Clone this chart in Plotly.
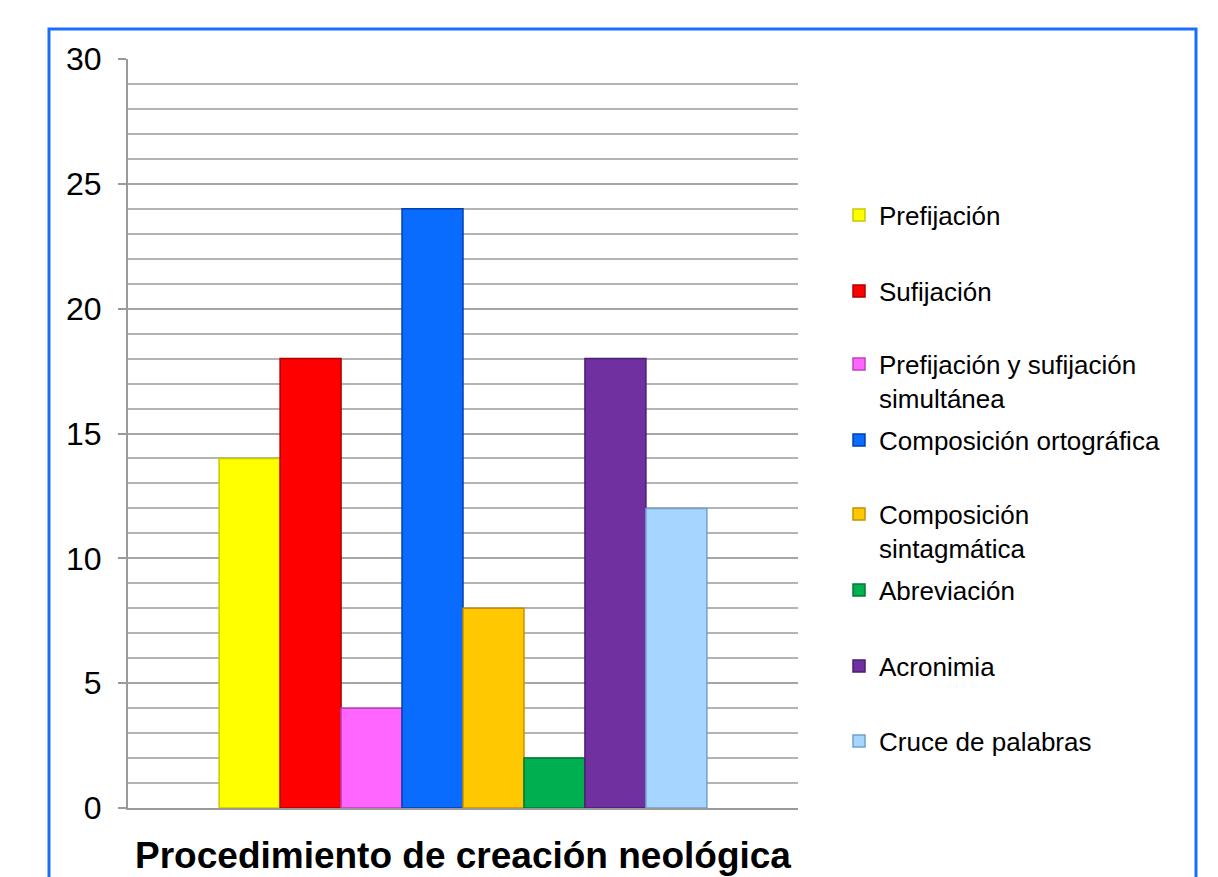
import plotly.graph_objects as go

categories = ["Prefijación", "Sufijación", "Prefijación y sufijación<br>simultánea",
              "Composición ortográfica", "Composición<br>sintagmática", "Abreviación",
              "Acronimia", "Cruce de palabras"]
values = [14, 18, 4, 24, 8, 2, 18, 12]
colors = ["#FFFF00", "#FF0000", "#FF66FF", "#0A6CFF", "#FFC800", "#00B050", "#7030A0", "#A6D6FF"]
edges = ["#C9C900", "#B00000", "#C040C0", "#0040B0", "#C89000", "#007A38", "#4A1E70", "#6FA0D0"]
x_title = "Procedimiento de creación neológica"

OFF = 8  # page body margin
W, H = 1218 - OFF, 877 - OFF
L, R, T, B = 128, 798, 59, 808  # target pixel positions in the window

def px_to_paper_x(px):
    return (px - L) / (R - L)

def px_to_paper_y(py):
    return (B - py) / (B - T)

legend_centers = [215, 291, 381, 440, 531, 590, 666, 741]

fig = go.Figure()
layout_legends = {}
for i, (name, v, c, e) in enumerate(zip(categories, values, colors, edges)):
    key = "legend" if i == 0 else f"legend{i+1}"
    fig.add_trace(go.Bar(
        x=[""], y=[v], name=name,
        marker=dict(color=c, line=dict(color=e, width=1.5)),
        legend=key,
    ))
    layout_legends[key] = dict(
        x=px_to_paper_x(839), xanchor="left",
        y=px_to_paper_y(legend_centers[i]), yanchor="middle",
        font=dict(family="Liberation Sans, Arial, sans-serif", size=26, color="black"),
        bgcolor="rgba(0,0,0,0)", valign="top", tracegroupgap=0,
    )

fig.update_layout(
    width=W, height=H,
    margin=dict(l=L - OFF, r=W - (R - OFF), t=T - OFF, b=H - (B - OFF), autoexpand=False),
    paper_bgcolor="white", plot_bgcolor="white",
    barmode="group", bargap=0.272, bargroupgap=0,
    showlegend=True,
    font=dict(family="Liberation Sans, Arial, sans-serif", color="black"),
    **layout_legends,
)

fig.update_yaxes(
    range=[0, 30], dtick=5, tick0=0,
    ticks="outside", ticklen=8, tickwidth=2, tickcolor="#9a9a9a",
    ticklabelstandoff=10,
    tickfont=dict(size=32, color="black"),
    showgrid=True, gridcolor="#a6a6a6", gridwidth=2,
    minor=dict(dtick=1, showgrid=True, gridcolor="#b4b4b4", gridwidth=1.5, ticks=""),
    showline=True, linecolor="#9a9a9a", linewidth=2,
    zeroline=False,
)
fig.update_xaxes(
    showticklabels=False, ticks="",
    showline=True, linecolor="#9a9a9a", linewidth=2,
    title=dict(text=f"<b>{x_title}</b>", font=dict(size=37, color="black"), standoff=33),
)

fig.add_shape(
    type="rect", xref="paper", yref="paper",
    x0=px_to_paper_x(49), x1=px_to_paper_x(1196),
    y0=px_to_paper_y(930), y1=px_to_paper_y(29),
    line=dict(color="#1A6EFF", width=3), fillcolor="rgba(0,0,0,0)",
    layer="below",
)

fig.write_html("out.html")
